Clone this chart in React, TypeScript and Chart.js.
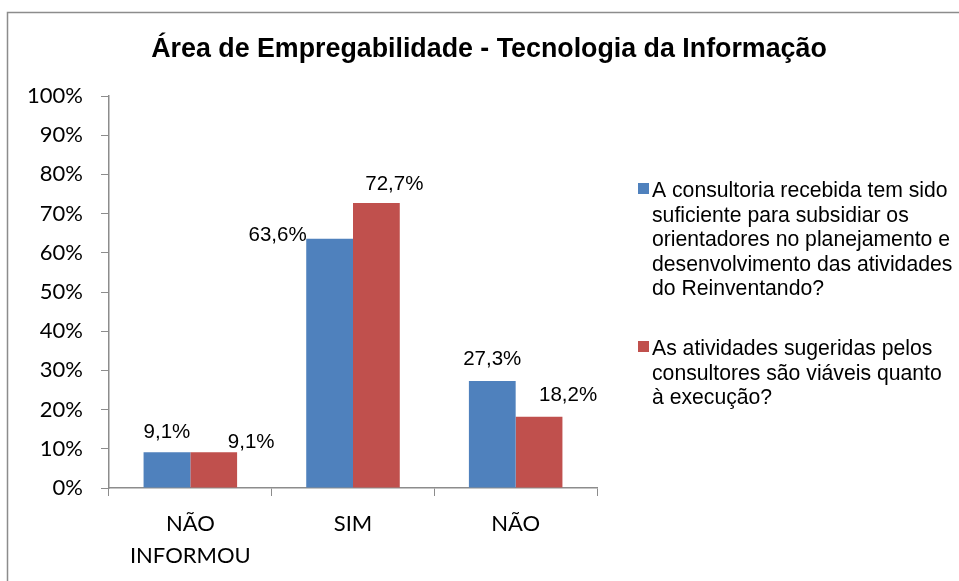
import React, { useEffect, useRef } from "react";
import { Chart, registerables } from "chart.js";

Chart.register(...registerables);

const chartTitle = "Área de Empregabilidade - Tecnologia da Informação";
const categories: (string | string[])[] = [["NÃO", "INFORMOU"], "SIM", "NÃO"];
const seriesNameLines: string[][] = [
  [
    "A consultoria recebida tem sido",
    "suficiente para subsidiar os",
    "orientadores no planejamento e",
    "desenvolvimento das atividades",
    "do Reinventando?",
  ],
  ["As atividades sugeridas pelos", "consultores são viáveis quanto", "à execução?"],
];
const consultoriaValues = [9.1, 63.6, 27.3];
const atividadesValues = [9.1, 72.7, 18.2];
const yTickValues = [0, 10, 20, 30, 40, 50, 60, 70, 80, 90, 100];

const seriesColors = ["#4F81BD", "#C0504D"];
// label offsets (dx, dy of text baseline relative to bar top-centre), per series, per category
const labelOffsets = [
  [[0, -14.7], [-52, 2.3], [0, -15.7]],
  [[37.5, -4.7], [18, -12.7], [29, -15.4]],
];

const axisGrey = "#8c8c8c";
const arial = '"Liberation Sans", Arial, sans-serif';
const axisFont = 'Lato, "Liberation Sans", sans-serif';

const fmt = (v: number) => v.toFixed(1).replace(".", ",") + "%";

const decorPlugin = {
  id: "decor",
  beforeDraw(chart: any) {
    const ctx = chart.ctx;
    ctx.save();
    ctx.fillStyle = "#ffffff";
    ctx.fillRect(0, 0, chart.width, chart.height);
    ctx.strokeStyle = axisGrey;
    ctx.lineWidth = 1.5;
    ctx.strokeRect(7.5, 12.5, 3000, 3000);
    // title
    ctx.fillStyle = "#000";
    ctx.font = `bold 26.8px ${arial}`;
    ctx.textAlign = "center";
    ctx.textBaseline = "alphabetic";
    ctx.fillText(chartTitle, 489, 57);
    ctx.restore();
  },
  afterDatasetsDraw(chart: any) {
    const ctx = chart.ctx;
    ctx.save();
    ctx.fillStyle = "#000";
    ctx.font = `20.5px ${arial}`;
    ctx.textAlign = "center";
    ctx.textBaseline = "alphabetic";
    chart.data.datasets.forEach((ds: any, di: number) => {
      const meta = chart.getDatasetMeta(di);
      meta.data.forEach((el: any, i: number) => {
        const off = labelOffsets[di][i];
        ctx.fillText(fmt(ds.data[i]), el.x + off[0], el.y + off[1]);
      });
    });
    // legend
    const area = chart.chartArea;
    const markX = area.right + 41;
    const textX = markX + 14;
    const lineH = 24.5;
    const itemTops = [197, 355];
    ctx.textAlign = "left";
    ctx.font = `21.2px ${arial}`;
    seriesNameLines.forEach((lines, si) => {
      const base = itemTops[si];
      ctx.fillStyle = seriesColors[si];
      ctx.fillRect(markX, base - 14, 11, 11);
      ctx.fillStyle = "#000";
      lines.forEach((ln, li) => ctx.fillText(ln, textX, base + li * lineH));
    });
    ctx.restore();
  },
};

export default function App() {
  const ref = useRef<HTMLCanvasElement | null>(null);
  useEffect(() => {
    if (!ref.current) return;
    const chart = new Chart(ref.current, {
      type: "bar",
      data: {
        labels: categories as any,
        datasets: [
          {
            label: seriesNameLines[0].join(" "),
            data: consultoriaValues,
            backgroundColor: seriesColors[0],
            categoryPercentage: 0.575,
            barPercentage: 1,
          },
          {
            label: seriesNameLines[1].join(" "),
            data: atividadesValues,
            backgroundColor: seriesColors[1],
            categoryPercentage: 0.575,
            barPercentage: 1,
          },
        ],
      },
      options: {
        animation: false,
        responsive: false,
        devicePixelRatio: 1,
        layout: { padding: { left: 0, top: 96, right: 362, bottom: 0 } },
        plugins: {
          legend: { display: false },
          title: { display: false },
          tooltip: { enabled: false },
        },
        scales: {
          x: {
            type: "category",
            grid: {
              offset: true,
              drawOnChartArea: false,
              drawTicks: true,
              tickLength: 8,
              color: axisGrey,
            },
            border: { display: true, color: axisGrey, width: 1.5 },
            ticks: {
              color: "#000",
              font: { family: axisFont, size: 22, lineHeight: 1.45 },
              padding: 12,
              maxRotation: 0,
              autoSkip: false,
            },
            afterFit: (s: any) => {
              s.height = 93;
            },
          },
          y: {
            min: 0,
            max: 100,
            afterBuildTicks: (s: any) => {
              s.ticks = yTickValues.map((v) => ({ value: v }));
            },
            grid: {
              drawOnChartArea: false,
              drawTicks: true,
              tickLength: 8,
              color: axisGrey,
            },
            border: { display: true, color: axisGrey, width: 1.5 },
            ticks: {
              color: "#000",
              font: { family: axisFont, size: 22 },
              padding: 18,
              callback: (v: any) => v + "%",
            },
            afterFit: (s: any) => {
              s.width = 109;
            },
          },
        },
      },
      plugins: [decorPlugin],
    });
    return () => chart.destroy();
  }, []);
  return (
    <div style={{ position: "absolute", left: 0, top: 0, width: 959, height: 581, background: "#fff" }}>
      <canvas ref={ref} width={959} height={581} />
    </div>
  );
}
